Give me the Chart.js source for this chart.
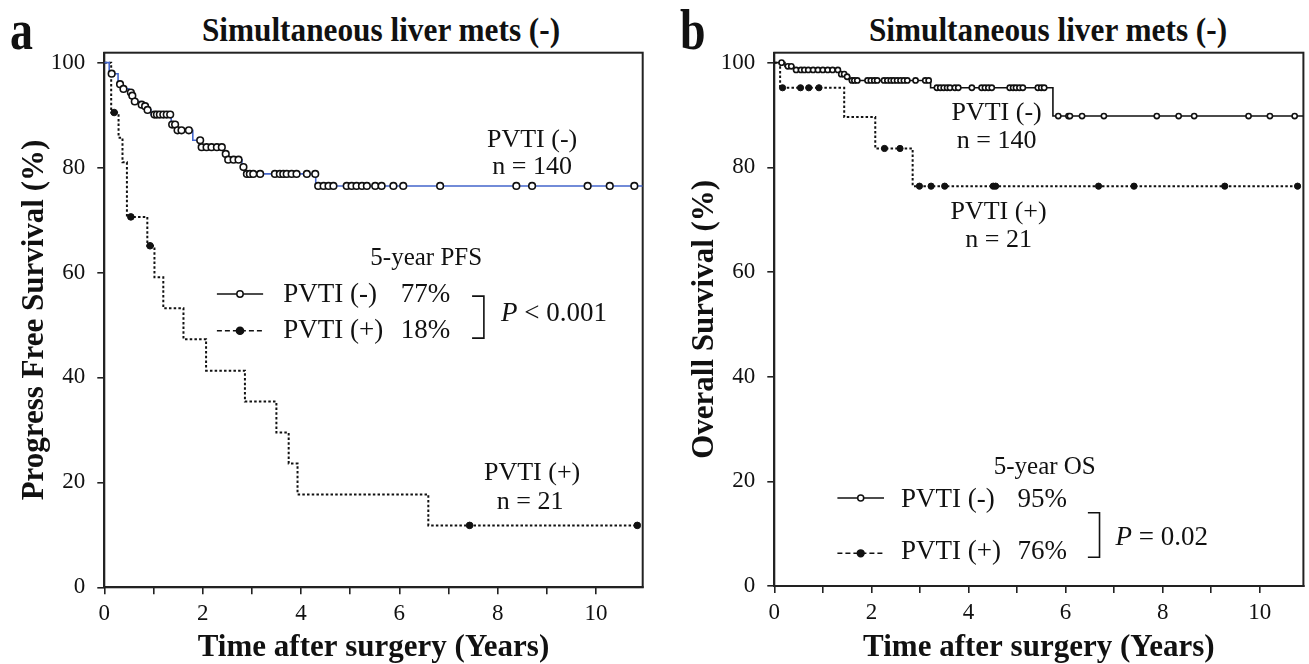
<!DOCTYPE html>
<html>
<head>
<meta charset="utf-8">
<script src="https://cdn.jsdelivr.net/npm/chart.js@4.4.0/dist/chart.umd.min.js"></script>
<style>
  body { margin: 0; background: #fff; width: 1309px; height: 664px; position: relative; overflow: hidden;
         font-family: 'Liberation Serif', 'Times New Roman', serif; color: #111; }
  canvas { position: absolute; top: 0; }
  #chartA { left: 0; }
  #chartB { left: 670px; }
  .title { position: absolute; top: 13px; font-weight: bold; font-size: 34px; line-height: 1; white-space: nowrap;
           transform: translateX(-50%) scaleX(0.92); }
  .letter { position: absolute; top: 2px; font-weight: bold; font-size: 56px; line-height: 1;
            transform-origin: left center; transform: scaleX(0.82); }
</style>
</head>
<body>
<div class="letter" style="left:10px;">a</div>
<div class="title" style="left:381px;">Simultaneous liver mets (-)</div>
<div class="letter" style="left:680px;">b</div>
<div class="title" style="left:1048px;">Simultaneous liver mets (-)</div>
<canvas id="chartA" width="670" height="664"></canvas>
<canvas id="chartB" width="639" height="664"></canvas>
<script>
const FONT = "'Liberation Serif', 'Times New Roman', serif";

// panel a: progression free survival, PVTI (-) n = 140
const pfsNegTime = [0, 0.1, 0.28, 0.36, 0.5, 0.55, 0.6, 0.72, 0.8, 0.86, 0.95, 1.36, 1.47, 1.8, 1.97, 2.44, 2.5, 2.8, 2.86, 4.3, 10.95];
const pfsNegSurv = [100, 97.9, 95.9, 95.0, 94.3, 93.7, 92.6, 92.0, 91.7, 91.0, 90.1, 88.2, 87.1, 85.2, 83.9, 82.6, 81.5, 80.1, 78.8, 76.5, 76.5];
const pfsNegCensored = [0.15, 0.32, 0.39, 0.54, 0.57, 0.62, 0.76, 0.83, 0.88, 1.02, 1.07, 1.13, 1.2, 1.27, 1.34,
  1.38, 1.44, 1.49, 1.57, 1.72, 1.95, 1.98, 2.08, 2.18, 2.29, 2.39, 2.47, 2.52, 2.63, 2.73, 2.83, 2.9, 2.96,
  3.03, 3.17, 3.47, 3.57, 3.64, 3.71, 3.81, 3.91, 4.12, 4.29, 4.35, 4.46, 4.56, 4.66, 4.93, 5.03, 5.13, 5.24,
  5.34, 5.51, 5.64, 5.88, 6.08, 6.83, 8.38, 8.7, 9.83, 10.28, 10.78];

// panel a: PVTI (+) n = 21
const pfsPosTime = [0, 0.14, 0.29, 0.37, 0.46, 0.875, 1.02, 1.2, 1.61, 2.07, 2.86, 3.5, 3.75, 3.93, 6.59, 10.84];
const pfsPosSurv = [100, 90.5, 85.7, 81.0, 70.6, 65.1, 59.1, 53.2, 47.3, 41.3, 35.4, 29.5, 23.6, 17.7, 11.8, 11.8];
const pfsPosCensored = [0.2, 0.54, 0.93, 7.43, 10.84];

// panel b: overall survival
const osNegTime = [0, 0.22, 0.4, 1.35, 1.47, 1.55, 3.22, 5.74, 10.9];
const osNegSurv = [100, 99.3, 98.6, 97.8, 97.3, 96.6, 95.2, 89.8, 89.8];
const osNegCensored = [0.15, 0.28, 0.35, 0.45, 0.55, 0.62, 0.7, 0.8, 0.9, 1.0, 1.1, 1.2, 1.31, 1.38, 1.44, 1.5,
  1.6, 1.65, 1.71, 1.92, 1.99, 2.06, 2.12, 2.26, 2.33, 2.4, 2.46, 2.53, 2.6, 2.67, 2.74, 2.91, 3.11, 3.18,
  3.35, 3.42, 3.49, 3.56, 3.62, 3.72, 3.79, 4.07, 4.27, 4.34, 4.41, 4.48, 4.85, 4.92, 4.98, 5.05, 5.12,
  5.43, 5.5, 5.56, 5.85, 6.06, 6.09, 6.34, 6.79, 7.88, 8.33, 8.65, 9.77, 10.21, 10.72];

const osPosTime = [0, 0.12, 1.44, 2.08, 2.85, 10.78];
const osPosSurv = [100, 95.2, 89.6, 83.6, 76.4, 76.4];
const osPosCensored = [0.17, 0.54, 0.71, 0.92, 2.27, 2.59, 2.99, 3.23, 3.51, 4.51, 4.56, 6.68, 7.41, 9.28, 10.78];

const xTickMarks = [0, 1, 2, 3, 4, 5, 6, 7, 8, 9, 10];
const xTickLabels = [0, 2, 4, 6, 8, 10];
const yTicks = [0, 20, 40, 60, 80, 100];

// survival level of a step curve at time t (censor marks sit on the curve)
function levelAt(times, surv, t) {
  let s = surv[0];
  times.forEach((tt, i) => { if (tt <= t) s = surv[i]; });
  return s;
}
const toPoints = (xs, ys) => xs.map((x, i) => ({ x: x, y: ys[i] }));
const censorPoints = (times, surv, cens) => cens.map(t => ({ x: t, y: levelAt(times, surv, t) }));

function kmSets(neg, pos, negColor, openR, dotR) {
  return [
    { data: censorPoints(neg.t, neg.s, neg.c), showLine: false, pointRadius: openR, pointBackgroundColor: '#fff',
      pointBorderColor: '#111', pointBorderWidth: 1.6, order: 0, clip: 8 },
    { data: censorPoints(pos.t, pos.s, pos.c), showLine: false, pointRadius: dotR, pointBackgroundColor: '#111',
      pointBorderColor: '#111', pointBorderWidth: 1, order: 0, clip: 8 },
    { data: toPoints(neg.t, neg.s), stepped: true, borderColor: negColor, borderWidth: 1.6, pointRadius: 0, order: 1 },
    { data: toPoints(pos.t, pos.s), stepped: true, borderColor: '#111', borderWidth: 2, borderDash: [2.5, 2.2],
      pointRadius: 0, order: 1 }
  ];
}

const framePlugin = {
  id: 'frame',
  beforeDatasetsDraw(chart) {
    const { ctx, chartArea: a } = chart;
    ctx.save();
    ctx.strokeStyle = '#222';
    ctx.lineWidth = 2;
    ctx.strokeRect(a.left, a.top, a.right - a.left, a.bottom - a.top);
    ctx.restore();
  }
};

function notesPlugin(items) {
  return {
    id: 'notes',
    afterDatasetsDraw(chart) {
      const { ctx, scales: { x, y } } = chart;
      const X = v => x.getPixelForValue(v), Y = v => y.getPixelForValue(v);
      ctx.save();
      items.forEach(it => {
        if (it.type === 'text') {
          const parts = it.parts || [{ t: it.text }];
          const fontOf = p => (p.italic ? 'italic ' : '') + it.size + 'px ' + FONT;
          let px = X(it.x);
          const py = Y(it.y);
          let total = 0;
          parts.forEach(p => { ctx.font = fontOf(p); total += ctx.measureText(p.t).width; });
          if (it.align === 'center') px -= total / 2;
          ctx.fillStyle = '#111';
          ctx.textAlign = 'left';
          ctx.textBaseline = 'middle';
          parts.forEach(p => { ctx.font = fontOf(p); ctx.fillText(p.t, px, py); px += ctx.measureText(p.t).width; });
        } else if (it.type === 'key') {
          const x1 = X(it.x1), x2 = X(it.x2), py = Y(it.y);
          ctx.strokeStyle = '#111';
          ctx.lineWidth = 1.5;
          ctx.setLineDash(it.dash || []);
          ctx.beginPath(); ctx.moveTo(x1, py); ctx.lineTo(x2, py); ctx.stroke();
          ctx.setLineDash([]);
          ctx.beginPath(); ctx.arc((x1 + x2) / 2, py, it.r, 0, Math.PI * 2);
          ctx.fillStyle = it.filled ? '#111' : '#fff';
          ctx.fill(); ctx.stroke();
        } else if (it.type === 'bracket') {
          ctx.strokeStyle = '#111';
          ctx.lineWidth = 1.6;
          ctx.beginPath();
          ctx.moveTo(X(it.x0), Y(it.y1)); ctx.lineTo(X(it.x), Y(it.y1));
          ctx.lineTo(X(it.x), Y(it.y2)); ctx.lineTo(X(it.x0), Y(it.y2));
          ctx.stroke();
        }
      });
      ctx.restore();
    }
  };
}

function makeOptions(yTitle, xMax, padRight, xHeight) {
  return {
    responsive: false,
    animation: false,
    devicePixelRatio: 1,
    layout: { padding: { top: 52.7, right: padRight, left: 0, bottom: 0 } },
    plugins: { legend: { display: false }, tooltip: { enabled: false } },
    scales: {
      x: {
        type: 'linear', min: 0, max: xMax,
        afterBuildTicks: s => { s.ticks = xTickMarks.map(v => ({ value: v })); },
        afterFit: s => { s.height = xHeight; },
        ticks: { autoSkip: false, maxRotation: 0, color: '#111', padding: 6,
                 font: { family: FONT, size: 23 },
                 callback: v => xTickLabels.includes(v) ? String(v) : '' },
        grid: { drawOnChartArea: false, drawTicks: true, tickLength: 7, color: '#222', lineWidth: 1.6 },
        border: { color: '#222', width: 2 },
        title: { display: true, text: 'Time after surgery (Years)', color: '#111',
                 font: { family: FONT, size: 31, weight: 'bold', lineHeight: 1 }, padding: { top: 0, bottom: 1 } }
      },
      y: {
        min: 0, max: 101.9,
        afterBuildTicks: s => { s.ticks = yTicks.map(v => ({ value: v })); },
        afterFit: s => { s.width = 104.3; },
        ticks: { color: '#111', padding: 12, font: { family: FONT, size: 23 } },
        grid: { drawOnChartArea: false, drawTicks: true, tickLength: 7, color: '#222', lineWidth: 1.6 },
        border: { color: '#222', width: 2 },
        title: { display: true, text: yTitle, color: '#111',
                 font: { family: FONT, size: 31, weight: 'bold', lineHeight: 1 }, padding: { top: 19.5, bottom: 0 } }
      }
    }
  };
}

const notesA = [
  { type: 'text', x: 8.7, y: 85.3, text: 'PVTI (-)', size: 26, align: 'center' },
  { type: 'text', x: 8.7, y: 80.0, text: 'n = 140', size: 26, align: 'center' },
  { type: 'text', x: 8.7, y: 21.8, text: 'PVTI (+)', size: 26, align: 'center' },
  { type: 'text', x: 8.66, y: 16.3, text: 'n = 21', size: 26, align: 'center' },
  { type: 'text', x: 5.41, y: 62.6, text: '5-year PFS', size: 25 },
  { type: 'key', x1: 2.29, x2: 3.23, y: 55.9, r: 3.2, filled: false },
  { type: 'key', x1: 2.29, x2: 3.23, y: 48.9, r: 3.6, filled: true, dash: [5, 3] },
  { type: 'text', x: 3.64, y: 55.7, text: 'PVTI (-)', size: 27 },
  { type: 'text', x: 6.03, y: 55.7, text: '77%', size: 27 },
  { type: 'text', x: 3.64, y: 48.8, text: 'PVTI (+)', size: 27 },
  { type: 'text', x: 6.03, y: 48.8, text: '18%', size: 27 },
  { type: 'bracket', x: 7.72, x0: 7.48, y1: 55.5, y2: 47.5 },
  { type: 'text', x: 8.07, y: 52.1, size: 27, parts: [{ t: 'P', italic: true }, { t: ' < 0.001' }] }
];

const notesB = [
  { type: 'text', x: 4.58, y: 90.4, text: 'PVTI (-)', size: 26, align: 'center' },
  { type: 'text', x: 4.58, y: 85.0, text: 'n = 140', size: 26, align: 'center' },
  { type: 'text', x: 4.62, y: 71.5, text: 'PVTI (+)', size: 26, align: 'center' },
  { type: 'text', x: 4.62, y: 66.1, text: 'n = 21', size: 26, align: 'center' },
  { type: 'text', x: 4.52, y: 22.7, text: '5-year OS', size: 25 },
  { type: 'key', x1: 1.30, x2: 2.26, y: 16.8, r: 3.0, filled: false },
  { type: 'key', x1: 1.30, x2: 2.26, y: 6.25, r: 3.4, filled: true, dash: [5, 3] },
  { type: 'text', x: 2.61, y: 16.5, text: 'PVTI (-)', size: 27 },
  { type: 'text', x: 5.01, y: 16.5, text: '95%', size: 27 },
  { type: 'text', x: 2.61, y: 6.5, text: 'PVTI (+)', size: 27 },
  { type: 'text', x: 5.01, y: 6.5, text: '76%', size: 27 },
  { type: 'bracket', x: 6.70, x0: 6.46, y1: 14.0, y2: 5.5 },
  { type: 'text', x: 7.03, y: 9.1, size: 27, parts: [{ t: 'P', italic: true }, { t: ' = 0.02' }] }
];

new Chart(document.getElementById('chartA'), {
  type: 'line',
  data: { datasets: kmSets({ t: pfsNegTime, s: pfsNegSurv, c: pfsNegCensored },
                            { t: pfsPosTime, s: pfsPosSurv, c: pfsPosCensored }, '#4466cc', 3.3, 3.3) },
  options: makeOptions('Progress Free Survival (%)', 10.95, 27.3, 76.7),
  plugins: [framePlugin, notesPlugin(notesA)]
});

new Chart(document.getElementById('chartB'), {
  type: 'line',
  data: { datasets: kmSets({ t: osNegTime, s: osNegSurv, c: osNegCensored },
                            { t: osPosTime, s: osPosSurv, c: osPosCensored }, '#111', 2.6, 3.1) },
  options: makeOptions('Overall Survival (%)', 10.9, 2, 78),
  plugins: [framePlugin, notesPlugin(notesB)]
});
</script>
</body>
</html>
